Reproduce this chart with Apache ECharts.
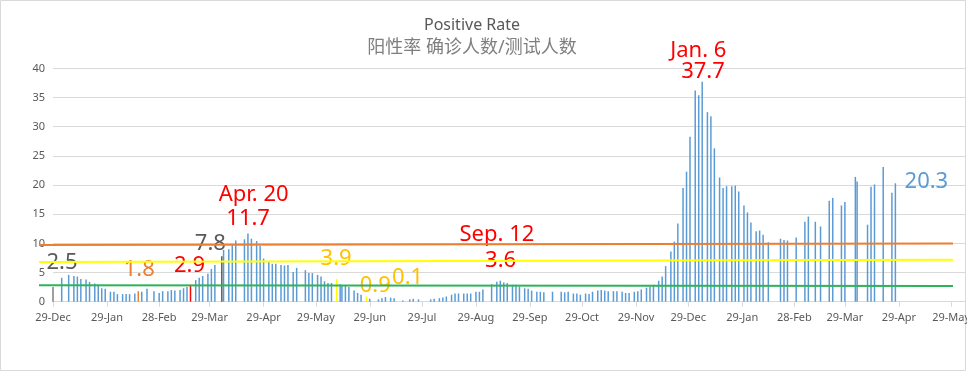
<!DOCTYPE html>
<html><head><meta charset="utf-8">
<script src="https://cdn.jsdelivr.net/npm/echarts@6/dist/echarts.min.js"></script>
<style>html,body{margin:0;padding:0;background:#fff}#c{width:967px;height:373px}</style>
</head><body><div id="c"></div>
<script>
// ---- data ----
const titleLines = ['Positive Rate', '阳性率 确诊人数/测试人数'];
// days since 29-Dec (first tick)
const days = [
  0,5,9,12,14,16,19,21,24,26,
  28,30,33,35,37,40,42,44,47,49,
  51,54,58,61,63,66,68,70,73,75,
  77,79,82,84,86,89,91,93,97,98,
  101,103,105,110,112,114,117,119,121,124,
  126,128,131,133,135,138,140,145,147,149,
  152,154,156,158,160,163,165,166,168,170,
  173,175,177,180,182,187,189,191,194,196,
  198,201,205,207,210,217,219,222,224,226,
  229,231,233,236,238,240,243,245,247,252,
  255,257,259,261,264,266,268,271,273,275,
  278,280,282,287,292,294,296,299,301,303,
  306,308,310,313,315,317,319,322,324,327,
  329,331,334,336,338,341,343,345,348,350,
  352,355,357,359,362,364,366,369,371,373,
  376,378,380,383,385,387,390,392,394,397,
  399,401,404,406,408,411,418,420,422,427,
  432,434,438,441,446,448,453,455,461,462,
  468,470,472,477,482,484
];
const rates = [
  2.5,4.1,4.6,4.4,4.3,3.9,3.8,3.4,3.1,2.9,
  2.3,2.2,1.7,1.7,1.3,1.3,1.3,1.3,1.4,1.8,
  1.7,2.2,1.8,1.5,1.8,1.8,2.0,1.9,2.0,2.3,
  2.5,2.9,3.7,4.1,4.4,4.8,5.6,6.3,7.8,8.9,
  9.0,9.7,10.5,10.7,11.7,10.8,10.4,9.6,7.4,6.9,
  6.5,6.5,6.3,6.2,6.3,5.1,5.8,5.4,4.9,4.9,
  4.6,4.3,3.5,3.2,3.2,3.9,3.0,2.7,2.7,2.5,
  1.9,1.5,1.2,0.9,0.5,0.4,0.6,0.8,0.7,0.6,
  0.1,0.2,0.4,0.5,0.4,0.4,0.5,0.6,0.7,0.9,
  1.2,1.4,1.4,1.4,1.4,1.4,1.7,1.7,2.1,3.0,
  3.4,3.6,3.3,3.2,2.9,2.9,2.6,2.3,2.2,1.9,
  1.7,1.7,1.6,1.7,1.7,1.6,1.7,1.4,1.4,1.2,
  1.4,1.3,1.7,1.9,2.0,1.9,1.8,1.8,1.8,1.7,
  1.5,1.5,1.7,1.8,2.1,2.4,2.6,2.9,3.6,4.3,
  6.1,8.6,10.3,13.4,19.5,22.3,28.3,36.2,35.4,37.7,
  32.5,31.8,26.3,21.3,19.5,19.8,19.8,19.9,18.9,16.5,
  15.3,13.6,12.1,12.2,11.5,10.2,10.8,10.6,10.5,11.0,
  13.7,14.6,13.7,12.9,17.3,17.8,16.5,17.1,21.4,20.6,
  13.2,19.7,20.1,23.1,18.7,20.3
];
const tickDays = [0,31,61,90,121,151,182,212,243,274,304,335,365,396,426,455,486,516];
const tickLabels = ['29-Dec','29-Jan','28-Feb','29-Mar','29-Apr','29-May','29-Jun','29-Jul','29-Aug','29-Sep','29-Oct','29-Nov','29-Dec','29-Jan','28-Feb','29-Mar','29-Apr','29-May'];
const calloutDays = [0,49,79,97,112,163,180,198,257,373,484];
const calloutTexts = [['2.5'],['1.8'],['2.9'],['7.8'],['Apr. 20','11.7'],['3.9'],['0.9'],['0.1'],['Sep. 12','3.6'],['Jan. 6','37.7'],['20.3']];
const orangeLine = [9.7, 10.0];
const yellowLine = [6.8, 7.2];
const greenLine = [2.8, 2.7];

// ---- styles ----
const FONT = '"Noto Sans", "Noto Sans CJK SC", sans-serif';
const BLUE = '#5b9bd5';
const calloutStyle = [
  {color:'#595959', bar:'#7f7f7f', off:[9,-24]},
  {color:'#ed7d31', bar:'#ed7d31', off:[1,-21]},
  {color:'#ff0000', bar:'#ff0000', off:[-1,-19]},
  {color:'#595959', bar:'#595959', off:[-11.5,-12]},
  {color:'#ff0000', off:[5.7,-27], lh:24, pad:[0,11,0,0]},
  {color:'#ffc000', bar:'#ffff00', off:[-0.6,-20]},
  {color:'#ffc000', bar:'#ffff00', off:[9,-11]},
  {color:'#ffc000', bar:'#ffff00', off:[10,-23.6]},
  {color:'#ff0000', off:[-3.4,-33.3], lh:26, pad:[0,0,0,7.4]},
  {color:'#ff0000', off:[-3.9,-20.4], lh:21, pad:[0,0,0,9.4]},
  {color:BLUE, off:[31,-1.6]}
];

const barData = days.map((d, i) => {
  const item = {value: [d, rates[i]]};
  const k = calloutDays.indexOf(d);
  if (k >= 0) {
    const st = calloutStyle[k];
    const lines = calloutTexts[k];
    if (st.bar) item.itemStyle = {color: st.bar};
    const base = {fontSize: 22, color: st.color, fontFamily: FONT, lineHeight: st.lh || 24};
    item.label = {
      show: true,
      position: ['50%', 0],
      align: 'center',
      verticalAlign: 'middle',
      offset: st.off,
      formatter: lines.length === 2 ? '{a|' + lines[0] + '}\n{b|' + lines[1] + '}' : '{a|' + lines[0] + '}',
      rich: {
        a: Object.assign({}, base),
        b: Object.assign({}, base, {padding: st.pad || [0,0,0,0]})
      }
    };
  }
  return item;
});

const GRID_TOP = 68.4, GRID_BOTTOM = 71.3;
const lineSeries = (vals, color) => ({
  type: 'line', xAxisIndex: 1, yAxisIndex: 1, silent: true, symbol: 'none', z: 5,
  data: [[0, vals[0]], [1, vals[1]]],
  lineStyle: {color: color, width: 2}
});

const chart = echarts.init(document.getElementById('c'), null, {renderer: 'canvas'});
chart.setOption({
  animation: false,
  backgroundColor: '#ffffff',
  grid: [
    {left: 53, right: 2, top: GRID_TOP, bottom: GRID_BOTTOM, containLabel: false, outerBoundsMode: 'none'},
    {left: 39, right: 14, top: GRID_TOP, bottom: GRID_BOTTOM, containLabel: false, outerBoundsMode: 'none'}
  ],
  graphic: [
    {type: 'rect', shape: {x: 0.5, y: 0.5, width: 965, height: 370}, style: {fill: 'none', stroke: '#d9d9d9', lineWidth: 1}, z: -1},
    {type: 'text', x: 472, y: 25, style: {text: titleLines[0], align: 'center', verticalAlign: 'middle', fontSize: 16, fontFamily: FONT, fill: '#595959'}},
    {type: 'text', x: 472, y: 47.5, style: {text: titleLines[1], align: 'center', verticalAlign: 'middle', fontSize: 18, fontFamily: FONT, fill: '#7f7f7f'}}
  ],
  xAxis: [
    {
      type: 'value', gridIndex: 0, min: 0, max: 524,
      axisLine: {show: true, lineStyle: {color: '#d9d9d9'}},
      axisTick: {show: true, customValues: tickDays, length: 5, lineStyle: {color: '#d9d9d9'}},
      axisLabel: {customValues: tickDays, formatter: v => tickLabels[tickDays.indexOf(v)], fontSize: 11, color: '#595959', fontFamily: FONT, margin: 11, hideOverlap: false},
      splitLine: {show: false}
    },
    {type: 'value', gridIndex: 1, min: 0, max: 1, show: false}
  ],
  yAxis: [
    {
      type: 'value', gridIndex: 0, min: 0, max: 40, interval: 5,
      axisLine: {show: false}, axisTick: {show: false},
      axisLabel: {fontSize: 11, color: '#595959', fontFamily: FONT, margin: 8},
      splitLine: {lineStyle: {color: '#d9d9d9'}}
    },
    {type: 'value', gridIndex: 1, min: 0, max: 40, show: false}
  ],
  series: [
    {
      type: 'bar', xAxisIndex: 0, yAxisIndex: 0, barWidth: 1.5, clip: false, z: 2,
      itemStyle: {color: BLUE},
      data: barData
    },
    lineSeries(orangeLine, '#ed7d31'),
    lineSeries(yellowLine, '#ffff00'),
    lineSeries(greenLine, '#2fb35a')
  ]
});
</script>
</body></html>
